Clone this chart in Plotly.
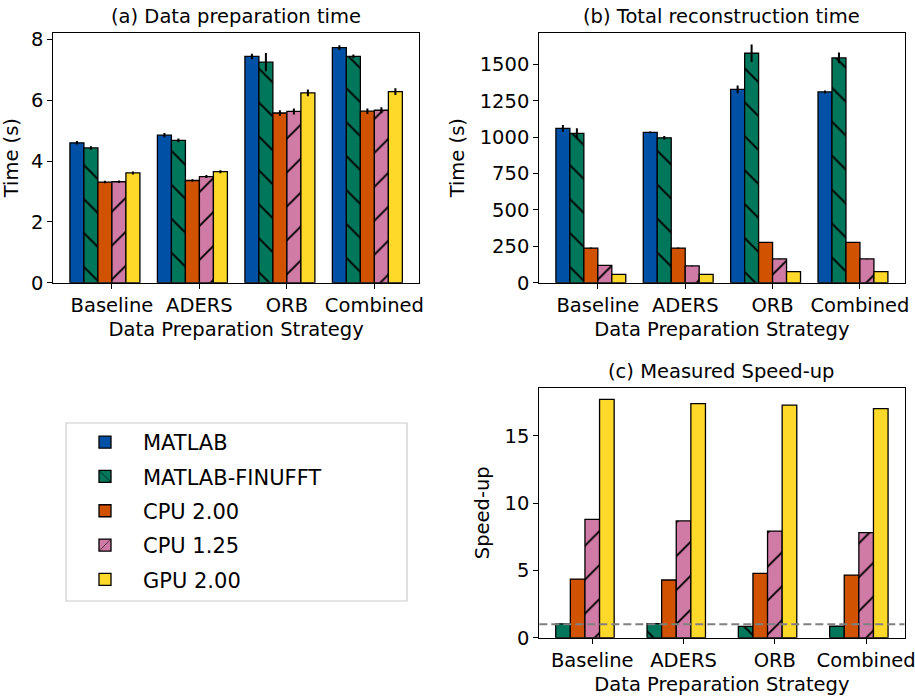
import plotly.graph_objects as go

categories = ["Baseline", "ADERS", "ORB", "Combined"]
series = ["MATLAB", "MATLAB-FINUFFT", "CPU 2.00", "CPU 1.25", "GPU 2.00"]
colors = ["#0050a5", "#00765a", "#d15200", "#d07ba6", "#ffd92a"]
patterns = ["", "\\", "", "/", ""]

# (a) Data preparation time (s)
prep_matlab = [4.60, 4.85, 7.44, 7.73]
prep_finufft = [4.43, 4.68, 7.25, 7.44]
prep_cpu200 = [3.31, 3.36, 5.58, 5.64]
prep_cpu125 = [3.32, 3.49, 5.63, 5.67]
prep_gpu200 = [3.61, 3.65, 6.24, 6.28]
prep_matlab_err = [0.06, 0.07, 0.09, 0.08]
prep_finufft_err = [0.06, 0.06, 0.30, 0.06]
prep_cpu200_err = [0.04, 0.04, 0.09, 0.09]
prep_cpu125_err = [0.04, 0.05, 0.10, 0.10]
prep_gpu200_err = [0.05, 0.05, 0.11, 0.11]

# (b) Total reconstruction time (s)
total_matlab = [1060, 1032, 1328, 1310]
total_finufft = [1025, 995, 1576, 1544]
total_cpu200 = [238, 238, 277, 277]
total_cpu125 = [119, 115, 163, 163]
total_gpu200 = [57, 57, 76, 76]
total_matlab_err = [23, 6, 27, 10]
total_finufft_err = [35, 12, 60, 37]
total_cpu200_err = [3, 3, 3, 3]
total_cpu125_err = [2, 2, 2, 2]
total_gpu200_err = [1, 1, 1, 1]

# (c) Measured speed-up (relative to MATLAB)
speed_finufft = [1.03, 1.04, 0.84, 0.85]
speed_cpu200 = [4.36, 4.29, 4.79, 4.66]
speed_cpu125 = [8.80, 8.68, 7.93, 7.81]
speed_gpu200 = [17.72, 17.40, 17.30, 17.03]
baseline_speedup = 1.0

prep = [prep_matlab, prep_finufft, prep_cpu200, prep_cpu125, prep_gpu200]
prep_err = [prep_matlab_err, prep_finufft_err, prep_cpu200_err, prep_cpu125_err, prep_gpu200_err]
total = [total_matlab, total_finufft, total_cpu200, total_cpu125, total_gpu200]
total_err = [total_matlab_err, total_finufft_err, total_cpu200_err, total_cpu125_err, total_gpu200_err]
speed = [speed_finufft, speed_cpu200, speed_cpu125, speed_gpu200]

W = 0.16
FONT = "DejaVu Sans"
FS = 19.5

fig = go.Figure()


def add_bars(vals, errs, i, n, xa, ya, showlegend, sidx):
    xs = [j + (i - n / 2) * W for j in range(len(categories))]
    marker = dict(color=colors[sidx], line=dict(color="black", width=1.3))
    if patterns[sidx]:
        marker["pattern"] = dict(shape=patterns[sidx], fgcolor="black", bgcolor=colors[sidx],
                                 size=24, solidity=0.08, fillmode="replace")
    kw = {}
    if errs is not None:
        kw["error_y"] = dict(type="data", array=errs, color="black", thickness=2, width=0)
    fig.add_trace(go.Bar(x=xs, y=vals, width=W, name=series[sidx], marker=marker,
                         xaxis=xa, yaxis=ya, showlegend=showlegend,
                         legendgroup=series[sidx], **kw))


for i in range(5):
    add_bars(prep[i], prep_err[i], i, 5, "x", "y", True, i)
for i in range(5):
    add_bars(total[i], total_err[i], i, 5, "x2", "y2", False, i)
for i in range(4):
    add_bars(speed[i], None, i, 4, "x3", "y3", False, i + 1)

axis_common = dict(showline=True, mirror=True, linecolor="black", linewidth=1.2,
                   ticks="outside", ticklen=5, tickwidth=1.2, tickcolor="black",
                   showgrid=False, zeroline=False, automargin=False,
                   ticklabeloverflow="allow",
                   tickfont=dict(family=FONT, size=FS, color="black"))

W_PX, H_PX = 915, 698


def dx(a, b):
    return [a / W_PX, b / W_PX]


def dy(top, bottom):
    return [1 - bottom / H_PX, 1 - top / H_PX]


xticks = dict(tickmode="array", tickvals=list(range(len(categories))), ticktext=categories)
xtitle = dict(text="Data Preparation Strategy", font=dict(family=FONT, size=FS, color="black"), standoff=6)

fig.update_layout(
    width=W_PX, height=H_PX,
    margin=dict(l=0, r=0, t=0, b=0),
    paper_bgcolor="white", plot_bgcolor="white",
    barmode="overlay",
    font=dict(family=FONT, color="black", size=FS),
    xaxis=dict(domain=dx(53.3, 419), range=[-0.67, 3.51], anchor="y", title=xtitle, **xticks, **axis_common),
    yaxis=dict(domain=dy(32.7, 282.7), range=[0, 8.22], anchor="x", tickvals=[0, 2, 4, 6, 8],
               title=dict(text="Time (s)", font=dict(family=FONT, size=FS), standoff=7), **axis_common),
    xaxis2=dict(domain=dx(539.3, 904.5), range=[-0.67, 3.51], anchor="y2", title=xtitle, **xticks, **axis_common),
    yaxis2=dict(domain=dy(32.7, 282.7), range=[0, 1717], anchor="x2",
                tickvals=[0, 250, 500, 750, 1000, 1250, 1500],
                title=dict(text="Time (s)", font=dict(family=FONT, size=FS), standoff=9), **axis_common),
    xaxis3=dict(domain=dx(539.3, 904.5), range=[-0.58, 3.42], anchor="y3", title=xtitle, **xticks, **axis_common),
    yaxis3=dict(domain=dy(387.7, 637.7), range=[0, 18.59], anchor="x3", tickvals=[0, 5, 10, 15],
                title=dict(text="Speed-up", font=dict(family=FONT, size=FS), standoff=9), **axis_common),
    legend=dict(x=67 / W_PX, y=1 - 422 / H_PX, xanchor="left", yanchor="top",
                borderwidth=0, bgcolor="rgba(0,0,0,0)",
                font=dict(family=FONT, size=21, color="black"),
                traceorder="grouped", tracegroupgap=4, itemwidth=66),
    showlegend=True,
)

# legend frame
fig.add_shape(type="rect", xref="paper", yref="paper",
              x0=66 / W_PX, x1=407 / W_PX, y0=1 - 601 / H_PX, y1=1 - 423 / H_PX,
              line=dict(color="#cccccc", width=1.2), fillcolor="white", layer="below")

fig.add_shape(type="line", xref="x3 domain", yref="y3", x0=0, x1=1,
              y0=baseline_speedup, y1=baseline_speedup,
              line=dict(color="#808080", width=2, dash="8px,4px"))

titles = [("(a) Data preparation time", dx(53.3, 419), dy(32.7, 282.7)),
          ("(b) Total reconstruction time", dx(539.3, 904.5), dy(32.7, 282.7)),
          ("(c) Measured Speed-up", dx(539.3, 904.5), dy(387.7, 637.7))]
for text, xd, yd in titles:
    fig.add_annotation(text=text, xref="paper", yref="paper", x=(xd[0] + xd[1]) / 2, y=yd[1],
                       xanchor="center", yanchor="bottom", yshift=3, showarrow=False,
                       font=dict(family=FONT, size=FS, color="black"))

fig.write_html("out.html", config={"displayModeBar": False},
               post_script="document.body.style.margin='0';document.body.style.overflow='hidden';")
